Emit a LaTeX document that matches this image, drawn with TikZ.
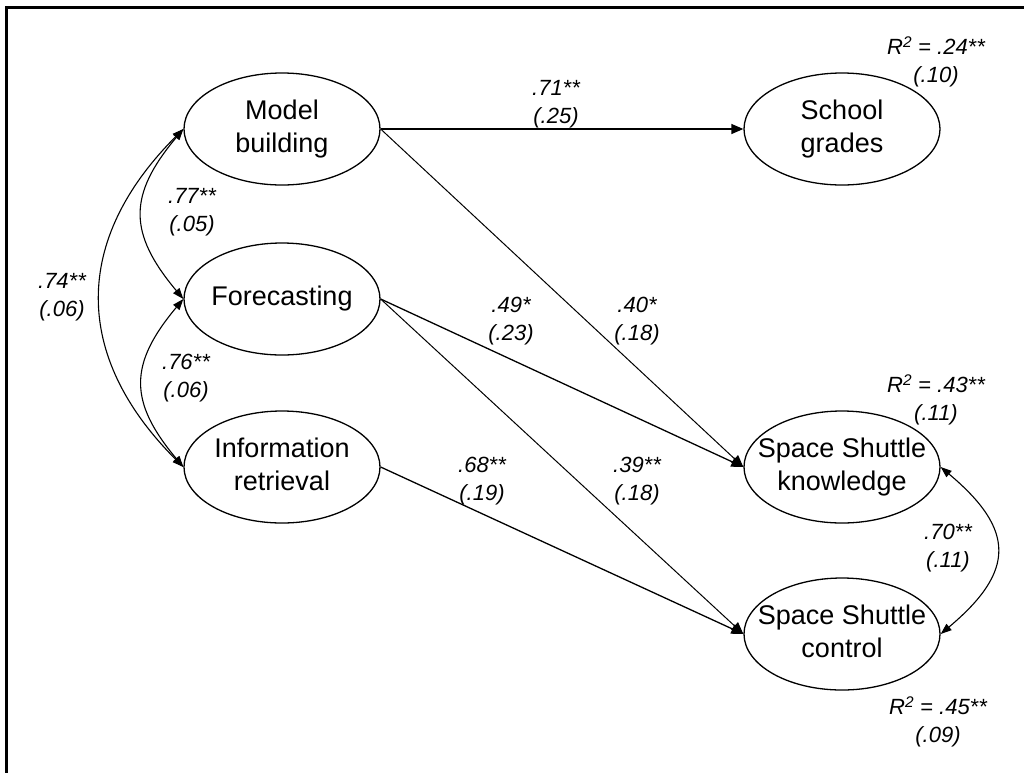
\documentclass[tikz,border=0pt]{standalone}
\usepackage{fontspec}
\setmainfont{Liberation Sans}
\usetikzlibrary{shapes.geometric,arrows.meta}
\newcommand\elltext[2]{\makebox[0pt]{\begin{tabular}{@{}c@{}}#1\\#2\end{tabular}}}
\begin{document}
\begin{tikzpicture}[x=1pt,y=1pt,
  ell/.style={draw, ellipse, line width=1.3pt, minimum width=196pt, minimum height=112pt, inner sep=0pt, font=\fontsize{27}{33}\selectfont},
  coef/.style={align=center, inner sep=0pt, font=\fontsize{22}{28}\selectfont\itshape},
  regpath/.style={line width=1.3pt, -{Triangle[length=12pt,width=10pt]}},
  thinpath/.style={line width=1pt, -{Triangle[length=12pt,width=10pt]}},
  cov/.style={line width=1.1pt, {Triangle[length=11pt,width=8pt]}-{Triangle[length=11pt,width=8pt]}},
]
\path[use as bounding box] (0,0) rectangle (1024,-772);
\clip (0,0) rectangle (1024,-772);
\fill[white] (0,0) rectangle (1024,-772);
\draw[line width=3pt] (6,-7) rectangle (1040,-790);

% constructs
\node[ell] (mb)  at (282,-129) {\elltext{Model}{building}};
\node[ell] (fc)  at (282,-299) {\makebox[0pt]{Forecasting}};
\node[ell] (ir)  at (282,-467) {\elltext{Information}{retrieval}};
\node[ell] (sg)  at (842,-129) {\elltext{School}{grades}};
\node[ell] (ssk) at (842,-467) {\elltext{Space Shuttle}{knowledge}};
\node[ell] (ssc) at (842,-634) {\elltext{Space Shuttle}{control}};

% regression paths
\draw[regpath] (mb.east) -- (sg.west);
\draw[thinpath] (mb.east) -- (ssk.west);
\draw[regpath] (fc.east) -- (ssk.west);
\draw[thinpath] (fc.east) -- (ssc.west);
\draw[regpath] (ir.east) -- (ssc.west);

% covariances
\draw[cov] (mb.west) to[out=230,in=130,looseness=1.3] (fc.west);
\draw[cov] (fc.west) to[out=230,in=130,looseness=1.3] (ir.west);
\draw[cov] (mb.west) to[out=225,in=135,looseness=1.19] (ir.west);
\draw[cov] (ssk.east) to[out=-40,in=40,looseness=1.5] (ssc.east);

% coefficients
\node[coef] (l71) at (556,-104) {.71**\\(.25)};
\node[coef] (l77) at (192,-212) {.77**\\(.05)};
\node[coef] (l74) at (62,-297) {.74**\\(.06)};
\node[coef] (l76) at (186,-378) {.76**\\(.06)};
\node[coef] (l49) at (511,-321) {.49*\\(.23)};
\node[coef] (l40) at (637,-321) {.40*\\(.18)};
\node[coef] (l68) at (482,-481) {.68**\\(.19)};
\node[coef] (l39) at (637,-481) {.39**\\(.18)};
\node[coef] (l70) at (948,-548) {.70**\\(.11)};
\node[coef] (r24) at (936,-62) {R\textsuperscript{2} = .24**\\(.10)};
\node[coef] (r43) at (936,-400) {R\textsuperscript{2} = .43**\\(.11)};
\node[coef] (r45) at (938,-722) {R\textsuperscript{2} = .45**\\(.09)};
\end{tikzpicture}
\end{document}
